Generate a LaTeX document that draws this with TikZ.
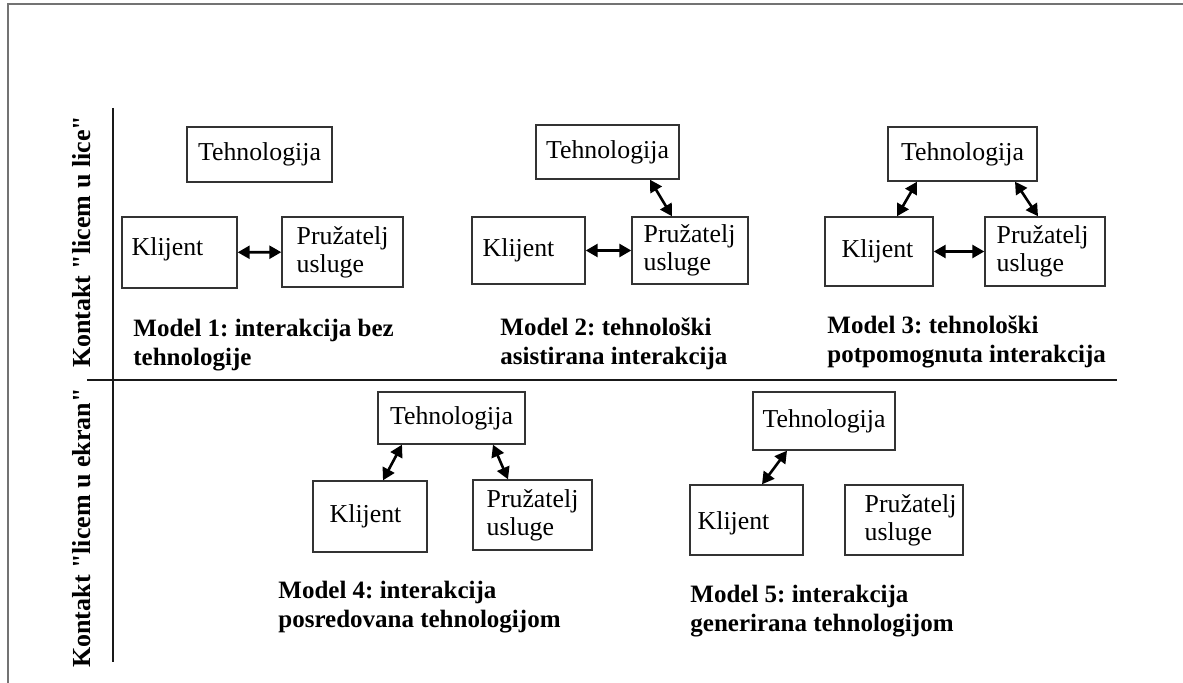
\documentclass[tikz,border=0pt]{standalone}
\usepackage{fontspec}
\setmainfont{Liberation Serif}
\usetikzlibrary{arrows.meta}
\frenchspacing
\begin{document}
\begin{tikzpicture}[x=0.5pt,y=-0.5pt,
  box/.style={draw=black!80,line width=0.7pt,inner sep=0pt,fill=white},
  lbl/.style={inner sep=0pt,font=\fontsize{12.9}{14}\selectfont,align=left},
  captext/.style={inner sep=0pt,anchor=north west,align=left,font=\bfseries\fontsize{12.5}{14.5}\selectfont},
  sidetext/.style={inner sep=0pt,rotate=90,font=\bfseries\fontsize{13}{15}\selectfont},
  arr/.style={line width=1.3pt,{Triangle[length=6pt,width=6.5pt]}-{Triangle[length=6pt,width=6.5pt]}},
  axisline/.style={line width=1pt,black!90}]
\useasboundingbox (0,0) rectangle (1183,683);
% outer frame
\coordinate (fa) at (8,683);
\coordinate (fb) at (8,4);
\coordinate (fc) at (1183,4);
\draw[black!55,line width=1pt] (fa) -- (fb) -- (fc);
% axes
\coordinate (va) at (113,108);
\coordinate (vb) at (113,662);
\coordinate (ha) at (87,380);
\coordinate (hb) at (1117,380);
\draw[axisline] (va) -- (vb);
\draw[axisline] (ha) -- (hb);
\node[sidetext] (s1) at (82,242) {Kontakt \textquotedbl licem u lice\textquotedbl};
\node[sidetext] (s2) at (82,528) {Kontakt \textquotedbl licem u ekran\textquotedbl};

% ---------- Model 1
\node[box,minimum width=72.5pt,minimum height=27.5pt] (T1) at (259.5,154.5) {};
\node[lbl] (T1t) at (T1) {Tehnologija};
\node[box,minimum width=57.5pt,minimum height=35.5pt] (K1) at (179.5,252.5) {};
\node[lbl,anchor=west] (K1t) at ([xshift=5pt,yshift=1.5pt]K1.west) {Klijent};
\node[box,minimum width=60.5pt,minimum height=35pt] (P1) at (342.5,252) {};
\node[lbl,anchor=west] (P1t) at ([xshift=7.5pt]P1.west) {Pružatelj\\usluge};
\draw[arr] (K1) -- (P1);
\node[captext] (C1) at (133,319) {Model 1: interakcija bez\\tehnologije};

% ---------- Model 2
\node[box,minimum width=71.5pt,minimum height=27pt] (T2) at (607.5,152) {};
\node[lbl] (T2t) at (T2) {Tehnologija};
\node[box,minimum width=56.5pt,minimum height=33.5pt] (K2) at (528.5,250.5) {};
\node[lbl,anchor=west] (K2t) at ([xshift=5.5pt]K2.west) {Klijent};
\node[box,minimum width=58pt,minimum height=33.5pt] (P2) at (690,250.5) {};
\node[lbl,anchor=west] (P2t) at ([xshift=6pt]P2.west) {Pružatelj\\usluge};
\draw[arr] (K2) -- (P2);
\draw[arr] ([xshift=21.25pt]T2.south) -- ([xshift=-9pt]P2.north);
\node[captext] (C2) at (500,317) {Model 2: tehnološki\\asistirana interakcija};

% ---------- Model 3
\node[box,minimum width=74.5pt,minimum height=27pt] (T3) at (962.5,154) {};
\node[lbl] (T3t) at (T3) {Tehnologija};
\node[box,minimum width=54pt,minimum height=34.5pt] (K3) at (879,251.5) {};
\node[lbl,anchor=west] (K3t) at ([xshift=8.5pt]K3.west) {Klijent};
\node[box,minimum width=60pt,minimum height=34.5pt] (P3) at (1045,251.5) {};
\node[lbl,anchor=west] (P3t) at ([xshift=6pt]P3.west) {Pružatelj\\usluge};
\draw[arr] (K3) -- (P3);
\draw[arr] ([xshift=-22.75pt]T3.south) -- ([xshift=9pt]K3.north);
\draw[arr] ([xshift=26.25pt]T3.south) -- ([xshift=-3.5pt]P3.north);
\node[captext] (C3) at (827,315) {Model 3: tehnološki\\potpomognuta interakcija};

% ---------- Model 4
\node[box,minimum width=73.5pt,minimum height=26pt] (T4) at (451.5,418) {};
\node[lbl] (T4t) at (T4) {Tehnologija};
\node[box,minimum width=57pt,minimum height=35.5pt] (K4) at (370,516.5) {};
\node[lbl,anchor=west] (K4t) at ([xshift=8.5pt]K4.west) {Klijent};
\node[box,minimum width=59.5pt,minimum height=35pt] (P4) at (532.5,515) {};
\node[lbl,anchor=west] (P4t) at ([xshift=7pt]P4.west) {Pružatelj\\usluge};
\draw[arr] ([xshift=-24.75pt]T4.south) -- ([xshift=6.5pt]K4.north);
\draw[arr] ([xshift=20.75pt]T4.south) -- ([xshift=-12.25pt]P4.north);
\node[captext] (C4) at (278,581) {Model 4: interakcija\\posredovana tehnologijom};

% ---------- Model 5
\node[box,minimum width=71pt,minimum height=29pt] (T5) at (824,421) {};
\node[lbl] (T5t) at (T5) {Tehnologija};
\node[box,minimum width=56.5pt,minimum height=35pt] (K5) at (746.5,520) {};
\node[lbl,anchor=west] (K5t) at ([xshift=4pt,yshift=-1.5pt]K5.west) {Klijent};
\node[box,minimum width=59pt,minimum height=35pt] (P5) at (904,520) {};
\node[lbl,anchor=west] (P5t) at ([xshift=10pt]P5.west) {Pružatelj\\usluge};
\draw[arr] ([xshift=-18.5pt]T5.south) -- ([xshift=7.75pt]K5.north);
\node[captext] (C5) at (690,585) {Model 5: interakcija\\generirana tehnologijom};
\end{tikzpicture}
\end{document}
